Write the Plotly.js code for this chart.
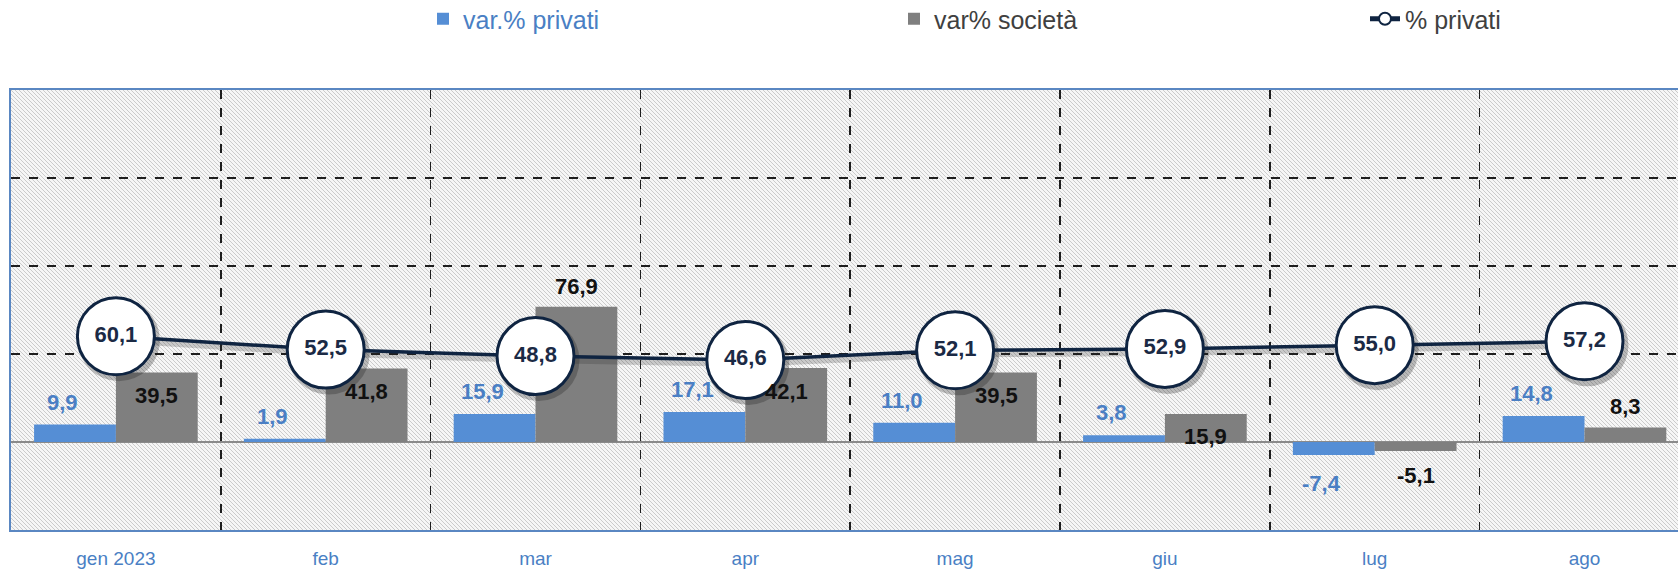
<!DOCTYPE html>
<html><head><meta charset="utf-8">
<script src="https://cdn.plot.ly/plotly-3.0.1.min.js"></script>
<style>html,body{margin:0;padding:0;background:#fff}#chart{width:1678px;height:575px}</style>
</head><body><div id="chart"></div>
<script>
// ---- data ----
const categories = ['gen 2023', 'feb', 'mar', 'apr', 'mag', 'giu', 'lug', 'ago'];
const varPrivati = [9.9, 1.9, 15.9, 17.1, 11.0, 3.8, -7.4, 14.8];
const varSocieta = [39.5, 41.8, 76.9, 42.1, 39.5, 15.9, -5.1, 8.3];
const pctPrivati = [60.1, 52.5, 48.8, 46.6, 52.1, 52.9, 55.0, 57.2];
const seriesNames = ['var.% privati', 'var% società', '% privati'];

// ---- style ----
const SANS = '"Liberation Sans", Arial, sans-serif';
const BLUE = '#558ed5', BLUE_TXT = '#4a7fc4', GRAY = '#7f7f7f', NAVY = '#0f2441';
const socLabelInside = [true, true, false, true, true, true, false, false];
const fmt = v => v.toFixed(1).replace('.', ',');

const W = 1678, H = 575, ML = 11, MR = 0, MT = 90, MB = 45;
const yRange = [-50, 200];
const xEnd = -0.5 + (W - ML - MR) / 209.8;
const xRange = [-0.5, xEnd];
const pxPerX = (W - ML - MR) / (xRange[1] - xRange[0]);
const pxPerY = (H - MT - MB) / (yRange[1] - yRange[0]);
const bargap = 0.22, half = (1 - bargap) / 4;

const traces = [
  {type: 'bar', name: '<span style="color:' + BLUE_TXT + '">' + seriesNames[0] + '</span>',
   x: categories, y: varPrivati, marker: {color: BLUE}, hoverinfo: 'skip'},
  {type: 'bar', name: seriesNames[1], x: categories, y: varSocieta,
   marker: {color: GRAY}, hoverinfo: 'skip'},
  // soft shadow of the line (drawn on offset overlay axes)
  {type: 'scatter', mode: 'lines+markers', x: categories, y: pctPrivati,
   xaxis: 'x2', yaxis: 'y2', showlegend: false, hoverinfo: 'skip',
   line: {color: 'rgba(40,40,40,0.22)', width: 6},
   marker: {size: 82, color: 'rgba(30,30,30,0.28)', line: {width: 0}}},
  {type: 'scatter', mode: 'lines+markers+text', name: seriesNames[2],
   x: categories, y: pctPrivati, xaxis: 'x3', yaxis: 'y3',
   text: pctPrivati.map(fmt), textposition: 'middle center',
   textfont: {family: SANS, size: 22, color: '#1b2a45', weight: 'bold'},
   line: {color: NAVY, width: 3.5},
   marker: {size: 77, color: '#ffffff', line: {color: NAVY, width: 3}},
   hoverinfo: 'skip', cliponaxis: false}
];

const annotations = [];
varPrivati.forEach((v, i) => {
  annotations.push({x: i - half, y: v, xref: 'x', yref: 'y', text: fmt(v), showarrow: false,
    xanchor: 'center', yanchor: v >= 0 ? 'bottom' : 'top', yshift: v >= 0 ? 8 : -14, xshift: -12,
    font: {family: SANS, size: 22, color: BLUE_TXT, weight: 'bold'}});
});
varSocieta.forEach((v, i) => {
  const inside = socLabelInside[i];
  let yanchor, yshift;
  if (v >= 0) {
    yanchor = inside ? 'top' : 'bottom';
    yshift = inside ? -Math.max(2, Math.min(9, v * pxPerY - 20)) : 6;
  } else { yanchor = 'top'; yshift = -10; }
  annotations.push({x: i + half, y: v, xref: 'x', yref: 'y', text: fmt(v), showarrow: false,
    xanchor: 'center', yanchor: yanchor, yshift: yshift,
    font: {family: SANS, size: 22, color: '#111111', weight: 'bold'}});
});

const svg = "<svg xmlns='http://www.w3.org/2000/svg' width='1667' height='440'>" +
  "<defs><pattern id='p' width='4' height='4' patternUnits='userSpaceOnUse'>" +
  "<rect width='4' height='4' fill='#f6f6f6'/>" +
  "<path d='M0,0 L4,4 M-1,3 L1,5 M3,-1 L5,1' stroke='#cbcbcb' stroke-width='1'/>" +
  "</pattern></defs><rect width='100%' height='100%' fill='url(#p)'/></svg>";
const bgSrc = 'data:image/svg+xml;base64,' + btoa(svg);

const dx = 3 / pxPerX, dy = 4 / pxPerY;
const hidden = {visible: false, type: 'category', fixedrange: true};

const layout = {
  width: W, height: H,
  margin: {l: ML, r: MR, t: MT, b: MB, pad: 0},
  paper_bgcolor: '#ffffff', plot_bgcolor: 'rgba(0,0,0,0)',
  separators: ',.',
  barmode: 'group', bargap: bargap, bargroupgap: 0,
  showlegend: true,
  legend: {orientation: 'h', xref: 'container', yref: 'container', x: 423 / W, xanchor: 'left',
    y: 1 - 19 / H, yanchor: 'middle', entrywidthmode: 'pixels', entrywidth: 426,
    itemsizing: 'constant', traceorder: 'normal',
    font: {family: SANS, size: 25, color: '#404040'}, bgcolor: 'rgba(0,0,0,0)'},
  xaxis: {type: 'category', range: xRange, tickson: 'boundaries', showgrid: true,
    gridcolor: '#1e1e1e', griddash: 'dash', gridwidth: 1.5,
    showline: true, mirror: true, linecolor: '#5a87c2', linewidth: 2,
    ticks: '', ticklabelstandoff: 10,
    tickfont: {family: SANS, size: 19, color: BLUE_TXT}, zeroline: false, fixedrange: true},
  yaxis: {range: yRange, tick0: 0, dtick: 50, showticklabels: false, showgrid: true,
    gridcolor: '#1e1e1e', griddash: 'dash', gridwidth: 1.5,
    zeroline: true, zerolinecolor: '#8a8a8a', zerolinewidth: 2,
    showline: true, linecolor: '#5a87c2', linewidth: 2, mirror: false, ticks: '', fixedrange: true},
  xaxis2: Object.assign({}, hidden, {overlaying: 'x', range: [xRange[0] - dx, xRange[1] - dx]}),
  yaxis2: {visible: false, overlaying: 'y', range: [yRange[0] + dy, yRange[1] + dy], fixedrange: true},
  xaxis3: Object.assign({}, hidden, {overlaying: 'x', range: xRange}),
  yaxis3: {visible: false, overlaying: 'y', range: yRange, fixedrange: true},
  images: [{source: bgSrc, xref: 'paper', yref: 'paper', x: 0, y: 1, sizex: 1, sizey: 1,
    xanchor: 'left', yanchor: 'top', sizing: 'stretch', layer: 'below'}],
  annotations: annotations
};

Plotly.newPlot('chart', traces, layout, {displayModeBar: false, staticPlot: true});
</script>
</body></html>
